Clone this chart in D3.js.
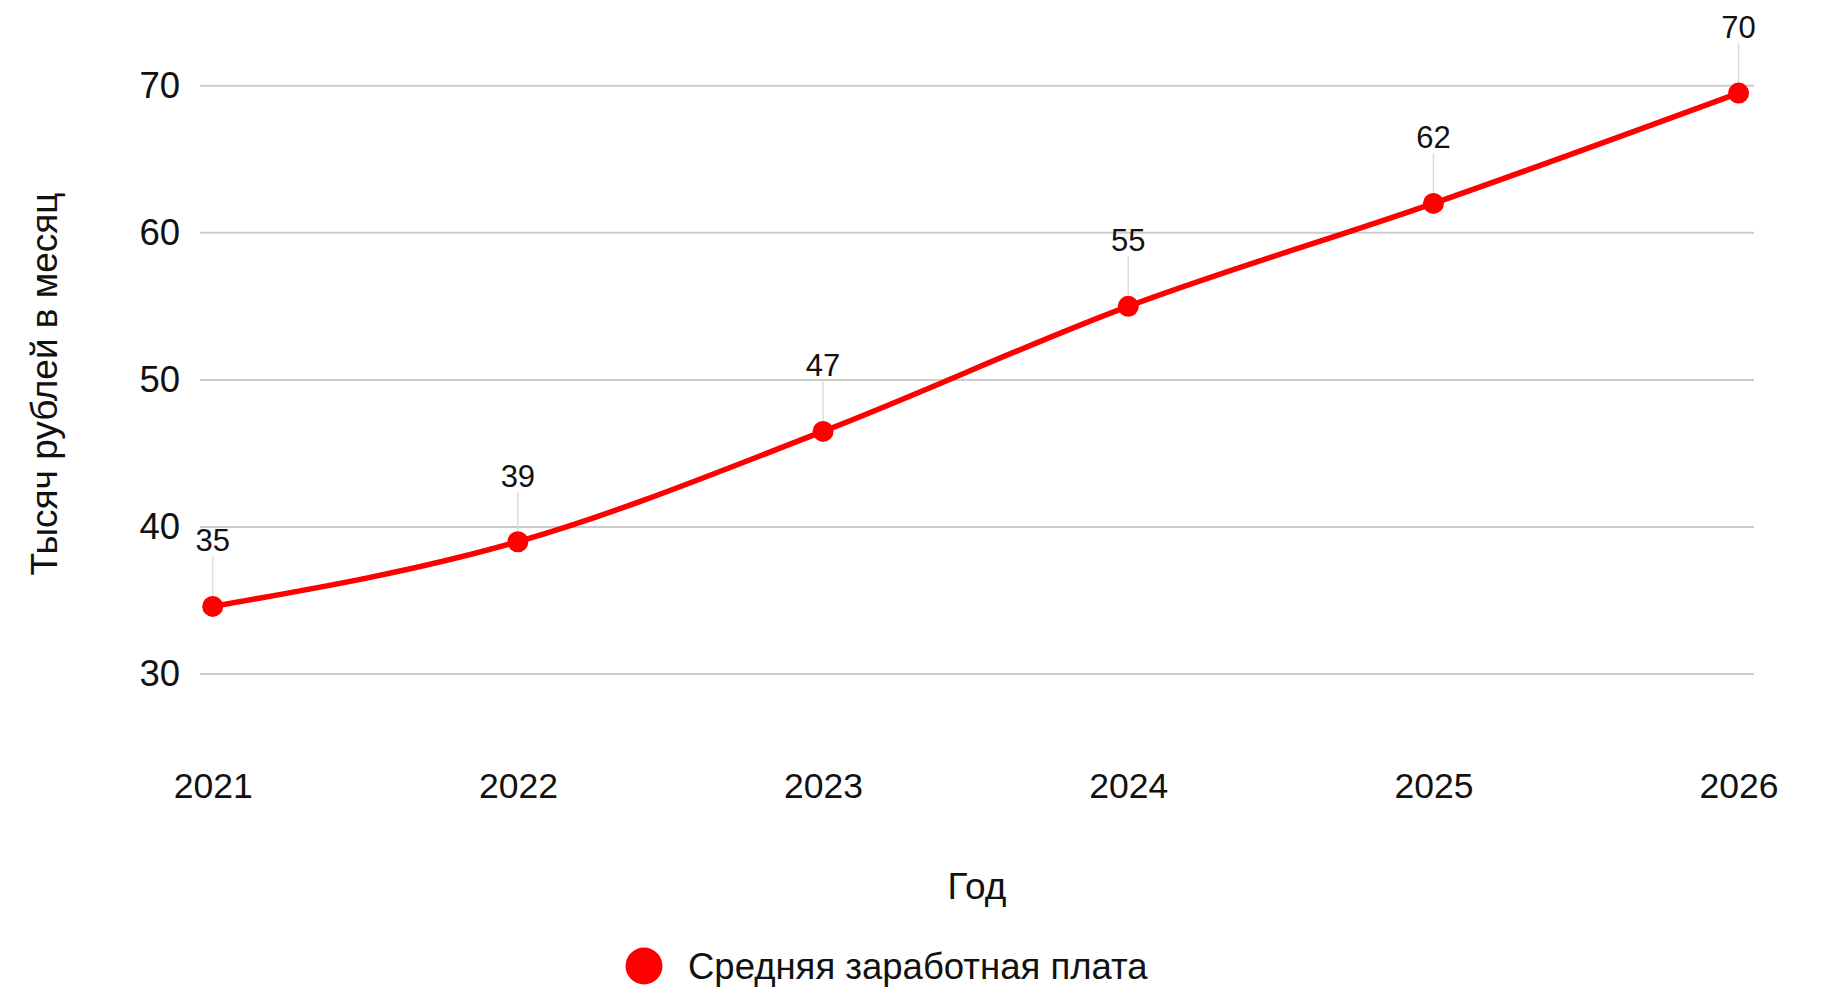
<!DOCTYPE html>
<html>
<head>
<meta charset="utf-8">
<script src="https://cdn.jsdelivr.net/npm/d3@7"></script>
<style>
  html, body { margin: 0; padding: 0; background: #fff; }
  svg { display: block; }
  text { font-family: "Liberation Sans", Arial, sans-serif; fill: #111; }
</style>
</head>
<body>
<svg id="chart" width="1821" height="987"></svg>
<script>
const years = ["2021", "2022", "2023", "2024", "2025", "2026"];
const salary = [34.6, 39.0, 46.5, 55.0, 62.0, 69.5];
const yTicks = [30, 40, 50, 60, 70];
const seriesName = "Средняя заработная плата";
const xTitle = "Год";
const yTitle = "Тысяч рублей в месяц";

const data = years.map((y, i) => ({ year: y, value: salary[i] }));

const svg = d3.select("#chart");
const plot = { left: 200, right: 1754, top: 85.7, bottom: 674.1 };

const x = d3.scalePoint().domain(years).range([212.7, 1738.6]);
const y = d3.scaleLinear().domain([30, 70]).range([plot.bottom, plot.top]);

// gridlines
svg.append("g").selectAll("line").data(yTicks).join("line")
  .attr("x1", plot.left).attr("x2", plot.right)
  .attr("y1", d => y(d)).attr("y2", d => y(d))
  .attr("stroke", "#cccccc").attr("stroke-width", 2);

// y axis labels
const yAxis = d3.axisLeft(y).tickValues(yTicks).tickSize(0).tickPadding(0).tickFormat(d3.format("d"));
const gy = svg.append("g").attr("transform", `translate(${180},0)`).call(yAxis);
gy.select(".domain").remove();
gy.selectAll("text").style("font-size", "36.5px").style("fill", "#111").attr("font-family", null);

// x axis labels
const xAxis = d3.axisBottom(x).tickSize(0).tickPadding(0);
const gx = svg.append("g").attr("transform", `translate(0,${773})`).call(xAxis);
gx.select(".domain").remove();
gx.selectAll("text").style("font-size", "35.5px").style("fill", "#111").attr("dy", "0.71em").attr("font-family", null);

// axis titles
svg.append("text").attr("x", (plot.left + plot.right) / 2).attr("y", 899)
  .attr("text-anchor", "middle").style("font-size", "37px").text(xTitle);
svg.append("text")
  .attr("transform", `translate(${57},${384}) rotate(-90)`)
  .attr("text-anchor", "middle").style("font-size", "37px").text(yTitle);

// leader lines
svg.append("g").selectAll("line").data(data).join("line")
  .attr("x1", d => x(d.year)).attr("x2", d => x(d.year))
  .attr("y1", d => y(d.value) - 50).attr("y2", d => y(d.value))
  .attr("stroke", "#dddddd").attr("stroke-width", 1.5);

// line
const line = d3.line().x(d => x(d.year)).y(d => y(d.value)).curve(d3.curveMonotoneX);
svg.append("path").datum(data).attr("d", line)
  .attr("fill", "none").attr("stroke", "#ff0000").attr("stroke-width", 5.5)
  .attr("stroke-linejoin", "round").attr("stroke-linecap", "round");

// points
svg.append("g").selectAll("circle").data(data).join("circle")
  .attr("cx", d => x(d.year)).attr("cy", d => y(d.value)).attr("r", 10.5)
  .attr("fill", "#ff0000");

// data labels
svg.append("g").selectAll("text").data(data).join("text")
  .attr("x", d => x(d.year)).attr("y", d => y(d.value) - 55)
  .attr("text-anchor", "middle").style("font-size", "31px")
  .text(d => Math.round(d.value));

// legend
const lg = svg.append("g");
lg.append("circle").attr("cx", 644).attr("cy", 966).attr("r", 18.5).attr("fill", "#ff0000");
lg.append("text").attr("x", 688).attr("y", 979).style("font-size", "36.5px").text(seriesName);
</script>
</body>
</html>
